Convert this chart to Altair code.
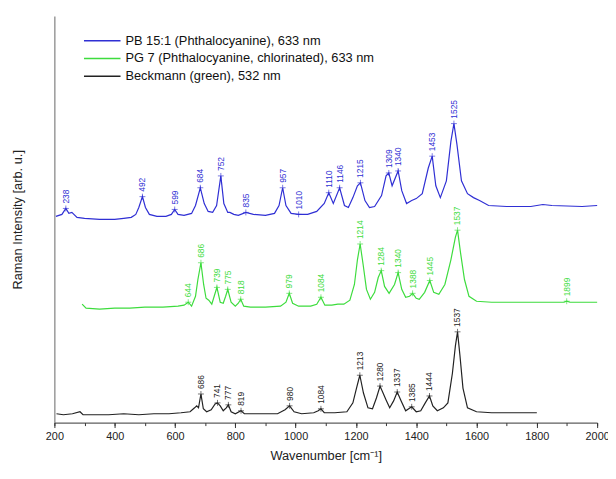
import altair as alt
import pandas as pd

names = ["PB 15:1 (Phthalocyanine), 633 nm",
         "PG 7 (Phthalocyanine, chlorinated), 633 nm",
         "Beckmann (green), 532 nm"]
colors = ["#2f2fd4", "#3ddc3d", "#222222"]

blue_wn = [205, 225, 238, 248, 258, 275, 300, 350, 400, 430, 455, 470, 480, 492, 502, 515, 540, 570, 588, 599,
           610, 630, 655, 668, 684, 697, 710, 725, 738, 752, 762, 775, 782, 795, 810, 835, 860, 900, 930, 945,
           957, 968, 985, 1010, 1040, 1070, 1095, 1110, 1125, 1146, 1162, 1175, 1190, 1205, 1215, 1230, 1245,
           1262, 1285, 1300, 1309, 1320, 1340, 1352, 1368, 1385, 1400, 1420, 1440, 1453, 1465, 1480, 1500, 1515,
           1525, 1535, 1550, 1570, 1590, 1610, 1640, 1700, 1780, 1820, 1850, 1950, 2000]
blue_i = [209, 211, 217, 212, 213, 208, 207, 206, 206, 207, 208, 211, 218, 229, 218, 211, 209, 209, 211, 216,
          211, 210, 212, 220, 238, 222, 214, 213, 220, 250, 222, 213, 213, 211, 210, 213, 211, 210, 212, 220,
          238, 220, 212, 211, 211, 214, 222, 233, 222, 238, 220, 218, 228, 240, 243, 225, 218,
          219, 230, 250, 253, 240, 255, 235, 222, 225, 227, 232, 258, 270, 240, 228, 245, 285,
          303, 282, 245, 232, 228, 225, 220, 219, 219, 221, 220, 219, 220]

green_wn = [292, 305, 350, 400, 450, 500, 560, 610, 630, 644, 655, 668, 676, 686, 695, 703, 712, 722, 730, 739,
            750, 760, 768, 775, 786, 800, 810, 818, 828, 850, 900, 950, 968, 979, 990, 1010, 1050, 1070, 1084,
            1097, 1120, 1140, 1160, 1180, 1195, 1205, 1214, 1224, 1235, 1248, 1262, 1274, 1284, 1295, 1310, 1328,
            1340, 1352, 1365, 1378, 1388, 1400, 1410, 1428, 1445, 1458, 1475, 1495, 1515, 1530, 1537, 1547, 1560,
            1575, 1600, 1650, 1700, 1800, 1890, 1899, 1910, 1990, 2000]
green_i = [120, 116, 115, 116, 116, 117, 117, 118, 119, 122, 118, 128, 145, 162, 140, 126, 124, 120, 128, 137,
           122, 121, 128, 135, 122, 118, 121, 125, 118, 117, 117, 118, 122, 131, 121, 118, 118, 120, 127,
           119, 119, 120, 120, 124, 140, 165, 181, 160, 135, 125, 132, 147, 154, 138, 131, 140,
           152, 135, 127, 128, 131, 126, 125, 132, 144, 132, 130, 140, 165, 188, 195, 172, 145,
           128, 123, 122, 122, 122, 122, 123, 122, 122, 122]

black_wn = [207, 230, 260, 285, 295, 330, 380, 430, 480, 530, 580, 620, 650, 665, 672, 678, 686, 694, 705, 720,
            733, 741, 750, 760, 770, 777, 786, 800, 819, 830, 880, 940, 965, 980, 995, 1020, 1060, 1075, 1084,
            1095, 1130, 1170, 1190, 1202, 1213, 1225, 1240, 1255, 1268, 1280, 1290, 1300, 1312, 1325, 1337,
            1350, 1365, 1385, 1400, 1415, 1430, 1444, 1455, 1470, 1490, 1505, 1520, 1530, 1537, 1545, 1555,
            1570, 1600, 1650, 1700, 1750, 1800]
black_i = [9, 8, 9, 11, 8, 8, 8, 9, 8, 9, 9, 10, 11, 15, 17, 15, 29, 14, 11, 13,
           19, 20, 17, 12, 15, 18, 11, 9, 12, 9, 9, 9, 13, 17, 11, 9, 10, 12, 14,
           10, 10, 11, 20, 35, 48, 30, 15, 14, 25, 37, 30, 23, 15, 22, 31,
           22, 12, 16, 11, 12, 20, 27, 17, 12, 15, 20, 50, 78, 92, 68, 35,
           15, 11, 10, 10, 10, 10]

blue_peaks = [238, 492, 599, 684, 752, 835, 957, 1010, 1110, 1146, 1215, 1309, 1340, 1453, 1525]
green_peaks = [644, 686, 739, 775, 818, 979, 1084, 1214, 1284, 1340, 1388, 1445, 1537, 1899]
black_peaks = [686, 741, 777, 819, 980, 1084, 1213, 1280, 1337, 1385, 1444, 1537]

series = [(names[0], blue_wn, blue_i, blue_peaks),
          (names[1], green_wn, green_i, green_peaks),
          (names[2], black_wn, black_i, black_peaks)]

line_rows, peak_rows = [], []
for name, wn, inten, peaks in series:
    lookup = dict(zip(wn, inten))
    for k, (w, v) in enumerate(zip(wn, inten)):
        line_rows.append({"series": name, "wn": w, "I": v, "k": k})
    for p in peaks:
        peak_rows.append({"series": name, "wn": p, "I": lookup[p], "label": str(p)})
lines_df = pd.DataFrame(line_rows)
peaks_df = pd.DataFrame(peak_rows)

FONT = "Liberation Sans"
xscale = alt.Scale(domain=[200, 2000], nice=False, zero=False)
yscale = alt.Scale(domain=[0, 412], nice=False, zero=False)
cscale = alt.Scale(domain=names, range=colors)

main_x_axis = alt.Axis(values=list(range(200, 2001, 200)), format="d", tickSize=5, labelFontSize=11,
                       labelFont=FONT, labelColor="#222", title="Wavenumber [cm⁻¹]", titleFont=FONT,
                       titleFontSize=13, titleFontWeight="normal", titleColor="#222", domainColor="#333",
                       tickColor="#333", labelPadding=3, titlePadding=8, labelFlush=False, grid=False,
                       orient="bottom")
minor_x_axis = alt.Axis(values=list(range(200, 2001, 100)), tickSize=3, labels=False, domain=False,
                        title=None, grid=False, orient="bottom", tickColor="#333")
y_axis = alt.Axis(labels=False, ticks=False, grid=False, domainColor="#666",
                  title="Raman Intensity [arb. u.]", titleFont=FONT, titleFontSize=13,
                  titleFontWeight="normal", titleColor="#222", titlePadding=30)

lines = alt.Chart(lines_df).mark_line(strokeWidth=1.2, interpolate="linear").encode(
    x=alt.X("wn:Q", scale=xscale, axis=main_x_axis),
    y=alt.Y("I:Q", scale=yscale, axis=y_axis),
    color=alt.Color("series:N", scale=cscale, legend=None),
    order="k:Q",
)

markers = alt.Chart(peaks_df).mark_point(shape="M-1,0H1M0,-1V1", size=36, filled=False, strokeWidth=0.9).encode(
    x=alt.X("wn:Q", scale=xscale, axis=minor_x_axis),
    y=alt.Y("I:Q", scale=yscale, axis=None),
    color=alt.Color("series:N", scale=cscale, legend=None),
)

labels = alt.Chart(peaks_df).mark_text(angle=270, align="left", baseline="middle", dx=5,
                                       fontSize=8.5, font=FONT).encode(
    x=alt.X("wn:Q", scale=xscale, axis=None),
    y=alt.Y("I:Q", scale=yscale, axis=None),
    text="label:N",
    color=alt.Color("series:N", scale=cscale, legend=None),
)

one = pd.DataFrame({"a": [0]})
legend_layers = []
for i, (nm, col) in enumerate(zip(names, colors)):
    yy = 25 + 18 * i
    legend_layers.append(alt.Chart(one).mark_rule(color=col, strokeWidth=1.4).encode(
        x=alt.value(30), x2=alt.value(67), y=alt.value(yy)))
    legend_layers.append(alt.Chart(one).mark_text(align="left", baseline="middle", fontSize=13,
                                                  font=FONT, color="#111").encode(
        x=alt.value(72), y=alt.value(yy), text=alt.value(nm)))

chart = alt.layer(lines, markers, labels, *legend_layers).resolve_axis(
    x="independent", y="independent"
).properties(
    width=550, height=412,
    autosize=alt.AutoSizeParams(type="none"),
    padding={"left": 47, "top": 5, "right": 11, "bottom": 54},
).configure_view(stroke=None)

chart.save("out.html", embed_options={"renderer": "svg", "actions": False})
